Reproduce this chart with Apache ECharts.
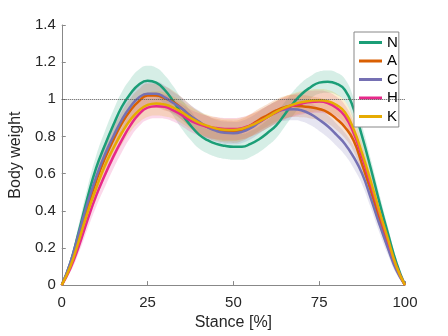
<!DOCTYPE html>
<html>
<head>
<meta charset="utf-8">
<script src="https://cdn.jsdelivr.net/npm/echarts@6/dist/echarts.min.js"></script>
<style>
  html, body { margin: 0; padding: 0; background: #fff; }
  #chart { width: 448px; height: 336px; }
</style>
</head>
<body>
<div id="chart"></div>
<script>
// stance positions (%), every 2.5 %
const stance = [0, 2.5, 5, 7.5, 10, 12.5, 15, 17.5, 20, 22.5, 25, 27.5, 30, 32.5, 35, 37.5, 40, 42.5, 45, 47.5,
  50, 52.5, 55, 57.5, 60, 62.5, 65, 67.5, 70, 72.5, 75, 77.5, 80, 82.5, 85, 87.5, 90, 92.5, 95, 97.5, 100];

// group means (body weight)
const meanN = [0, 0.12, 0.29, 0.47, 0.63, 0.75, 0.86, 0.96, 1.03, 1.08, 1.10, 1.09, 1.05, 0.99, 0.92, 0.86, 0.81, 0.78, 0.76, 0.75,
  0.745, 0.745, 0.76, 0.785, 0.82, 0.86, 0.92, 0.98, 1.03, 1.065, 1.09, 1.095, 1.085, 1.05, 0.95, 0.80, 0.63, 0.45, 0.28, 0.12, 0];
const meanA = [0, 0.11, 0.26, 0.42, 0.56, 0.68, 0.78, 0.87, 0.94, 0.99, 1.02, 1.02, 1.005, 0.985, 0.95, 0.91, 0.875, 0.85, 0.835, 0.827,
  0.825, 0.835, 0.86, 0.89, 0.915, 0.94, 0.958, 0.965, 0.963, 0.957, 0.948, 0.93, 0.895, 0.85, 0.78, 0.65, 0.51, 0.36, 0.22, 0.09, 0];
const meanC = [0, 0.12, 0.28, 0.44, 0.58, 0.70, 0.80, 0.89, 0.96, 1.01, 1.03, 1.03, 1.01, 0.98, 0.95, 0.91, 0.88, 0.85, 0.83, 0.82,
  0.818, 0.825, 0.845, 0.875, 0.905, 0.93, 0.945, 0.947, 0.94, 0.92, 0.89, 0.855, 0.81, 0.76, 0.69, 0.60, 0.47, 0.33, 0.20, 0.08, 0];
const meanH = [0, 0.09, 0.21, 0.35, 0.48, 0.59, 0.69, 0.78, 0.86, 0.92, 0.955, 0.963, 0.96, 0.94, 0.915, 0.885, 0.865, 0.852, 0.845, 0.84,
  0.84, 0.845, 0.86, 0.88, 0.905, 0.93, 0.952, 0.967, 0.978, 0.986, 0.988, 0.98, 0.955, 0.91, 0.82, 0.69, 0.54, 0.39, 0.24, 0.10, 0];
const meanK = [0, 0.10, 0.24, 0.39, 0.52, 0.64, 0.735, 0.82, 0.89, 0.94, 0.97, 0.978, 0.972, 0.955, 0.93, 0.90, 0.875, 0.857, 0.843, 0.836,
  0.835, 0.842, 0.858, 0.88, 0.905, 0.932, 0.955, 0.972, 0.985, 0.992, 0.995, 0.99, 0.97, 0.93, 0.84, 0.71, 0.56, 0.40, 0.25, 0.10, 0];

// standard deviations (shaded bands)
const sdN = [0, 0.02, 0.04, 0.055, 0.065, 0.075, 0.08, 0.08, 0.08, 0.08, 0.08, 0.08, 0.08, 0.08, 0.08, 0.078, 0.075, 0.072, 0.07, 0.07,
  0.07, 0.07, 0.07, 0.07, 0.07, 0.068, 0.066, 0.064, 0.062, 0.06, 0.06, 0.06, 0.06, 0.06, 0.06, 0.058, 0.052, 0.045, 0.035, 0.02, 0];
const sdGroup = [0, 0.02, 0.035, 0.05, 0.06, 0.065, 0.065, 0.065, 0.065, 0.065, 0.065, 0.065, 0.065, 0.06, 0.06, 0.06, 0.06, 0.06, 0.06, 0.06,
  0.06, 0.06, 0.06, 0.06, 0.06, 0.06, 0.06, 0.06, 0.06, 0.06, 0.06, 0.06, 0.06, 0.06, 0.06, 0.058, 0.052, 0.045, 0.035, 0.02, 0];

const groups = ["N", "A", "C", "H", "K"];
const colors = ["#1b9e77", "#d95f02", "#7570b3", "#e7298a", "#e6ab02"];
const means = [meanN, meanA, meanC, meanH, meanK];
const sds = [sdN, sdGroup, sdGroup, sdGroup, sdGroup];

const refLine = 1;

const font = "'Liberation Sans', Arial, Helvetica, sans-serif";

const series = [];

// bands first so lines sit on top (lower edge + stacked width)
groups.forEach((g, k) => {
  const m = means[k], s = sds[k];
  series.push({
    name: g + "_lo",
    type: "line",
    stack: "band" + g,
    smooth: true,
    symbol: "none",
    silent: true,
    lineStyle: { opacity: 0 },
    data: m.map((v, i) => v - s[i])
  });
  series.push({
    name: g + "_band",
    type: "line",
    stack: "band" + g,
    smooth: true,
    symbol: "none",
    silent: true,
    lineStyle: { opacity: 0 },
    areaStyle: { color: colors[k], opacity: 0.18 },
    data: s.map(v => 2 * v)
  });
});

groups.forEach((g, k) => {
  const s = {
    name: g,
    type: "line",
    smooth: true,
    symbol: "none",
    color: colors[k],
    lineStyle: { width: 2.5, color: colors[k] },
    data: means[k],
    z: 3
  };
  if (k === 0) {
    s.markLine = {
      silent: true,
      symbol: "none",
      label: { show: false },
      lineStyle: { type: "dotted", color: "#555", width: 1 },
      data: [{ yAxis: refLine }]
    };
  }
  series.push(s);
});

const chart = echarts.init(document.getElementById("chart"), null, { renderer: "canvas" });
chart.setOption({
  animation: false,
  backgroundColor: "#fff",
  grid: { left: 58, right: 43, top: 25, bottom: 48 },
  legend: {
    data: groups,
    orient: "vertical",
    left: 354,
    top: 32,
    backgroundColor: "#fff",
    borderColor: "#888",
    borderWidth: 1,
    borderRadius: 0,
    padding: [3, 1, 3, 5],
    itemGap: 3.5,
    itemWidth: 23,
    itemHeight: 3,
    icon: "rect",
    textStyle: { fontFamily: font, fontSize: 15, color: "#000" }
  },
  xAxis: {
    type: "category",
    data: stance,
    boundaryGap: false,
    name: "Stance [%]",
    nameLocation: "middle",
    nameGap: 29,
    nameTextStyle: { fontFamily: font, fontSize: 16, color: "#262626" },
    axisLine: { lineStyle: { color: "#888" } },
    axisTick: { inside: true, length: 4, interval: 9, lineStyle: { color: "#888" } },
    axisLabel: { fontFamily: font, fontSize: 15, color: "#262626", margin: 10, interval: 9 },
    splitLine: { show: false }
  },
  yAxis: {
    type: "value",
    min: 0,
    max: 1.4,
    interval: 0.2,
    name: "Body weight",
    nameLocation: "middle",
    nameGap: 25,
    nameTextStyle: { fontFamily: font, fontSize: 16, color: "#262626" },
    axisLine: { show: true, lineStyle: { color: "#888" } },
    axisTick: { show: true, inside: true, length: 4, lineStyle: { color: "#888" } },
    axisLabel: { fontFamily: font, fontSize: 15, color: "#262626", margin: 6 },
    splitLine: { show: false }
  },
  series: series
});
</script>
</body>
</html>
